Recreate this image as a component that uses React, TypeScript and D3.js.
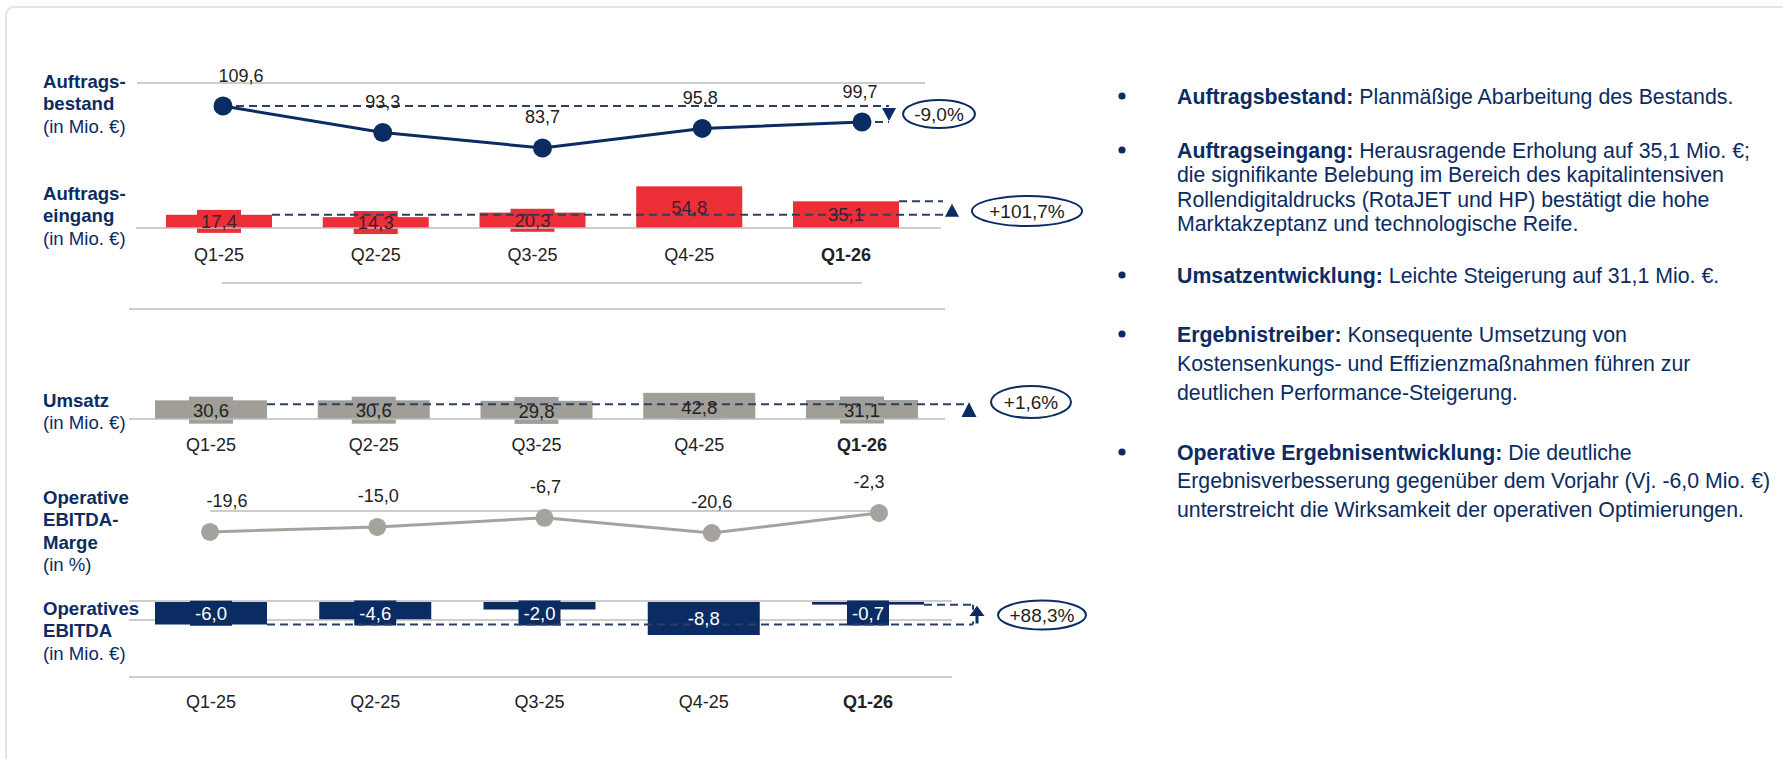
import React from 'react';
import * as d3 from 'd3';

const quarters = ['Q1-25', 'Q2-25', 'Q3-25', 'Q4-25', 'Q1-26'];
const auftragsbestand = [109.6, 93.3, 83.7, 95.8, 99.7];
const auftragseingang = [17.4, 14.3, 20.3, 54.8, 35.1];
const umsatz = [30.6, 30.6, 29.8, 42.8, 31.1];
const ebitdaMarge = [-19.6, -15.0, -6.7, -20.6, -2.3];
const ebitda = [-6.0, -4.6, -2.0, -8.8, -0.7];
const changeLabels = ['-9,0%', '+101,7%', '+1,6%', '+88,3%'];

const panelTitles = [
  { bold: ['Auftrags-', 'bestand'], unit: '(in Mio. €)' },
  { bold: ['Auftrags-', 'eingang'], unit: '(in Mio. €)' },
  { bold: ['Umsatz'], unit: '(in Mio. €)' },
  { bold: ['Operative', 'EBITDA-', 'Marge'], unit: '(in %)' },
  { bold: ['Operatives', 'EBITDA'], unit: '(in Mio. €)' },
];

const bullets = [
  { head: 'Auftragsbestand:', lines: [' Planmäßige Abarbeitung des Bestands.'] },
  {
    head: 'Auftragseingang:',
    lines: [
      ' Herausragende Erholung auf 35,1 Mio. €;',
      'die signifikante Belebung im Bereich des kapitalintensiven',
      'Rollendigitaldrucks (RotaJET und HP) bestätigt die hohe',
      'Marktakzeptanz und technologische Reife.',
    ],
  },
  { head: 'Umsatzentwicklung:', lines: [' Leichte Steigerung auf 31,1 Mio. €.'] },
  {
    head: 'Ergebnistreiber:',
    lines: [
      ' Konsequente Umsetzung von',
      'Kostensenkungs- und Effizienzmaßnahmen führen zur',
      'deutlichen Performance-Steigerung.',
    ],
  },
  {
    head: 'Operative Ergebnisentwicklung:',
    lines: [
      ' Die deutliche',
      'Ergebnisverbesserung gegenüber dem Vorjahr (Vj. -6,0 Mio. €)',
      'unterstreicht die Wirksamkeit der operativen Optimierungen.',
    ],
  },
];

const NAVY = '#0b2c62';
const DASH = '#2c3f69';
const RED = '#ec2f36';
const GREY_BAR = '#a19e98';
const GREY_LINE = '#a6a39e';
const AXIS = '#bdbdbd';
const FONT = "'Liberation Sans', Arial, sans-serif";

const fmt = (v: number) => v.toFixed(1).replace('.', ',');

function Ellipse({ cx, cy, rx, ry, text }: any) {
  return (
    <g>
      <ellipse cx={cx} cy={cy} rx={rx} ry={ry} fill="#fff" stroke={NAVY} strokeWidth={2} />
      <text x={cx} y={cy} dy="0.36em" textAnchor="middle" fontSize={19} fill="#222">{text}</text>
    </g>
  );
}

function Tri({ x, y1, y2, w = 7 }: any) {
  // triangle with base at y1, tip at y2
  return <path d={`M${x - w},${y1}L${x + w},${y1}L${x},${y2}Z`} fill={NAVY} />;
}

export default function App() {
  // Panel 1: Auftragsbestand (line)
  const x1 = d3.scalePoint<string>().domain(quarters).range([223, 862]);
  const y1 = d3.scaleLinear().domain([80, 110]).range([154, 105.4]);
  const line1 = d3.line<number>().x((_, i) => x1(quarters[i])!).y((d) => y1(d));

  // Panel 2: Auftragseingang (bars)
  const x2 = d3.scalePoint<string>().domain(quarters).range([219, 846]);
  const y2 = d3.scaleLinear().domain([0, 60]).range([228, 182.4]);
  const bw2 = 106;

  // Panel 3: Umsatz (bars)
  const x3 = d3.scalePoint<string>().domain(quarters).range([211, 862]);
  const y3 = d3.scaleLinear().domain([0, 50]).range([419, 388.5]);
  const bw3 = 112;

  // Panel 4: EBITDA-Marge (line)
  const x4 = d3.scalePoint<string>().domain(quarters).range([210, 879]);
  const y4 = d3.scaleLinear().domain([-20.6, -2.3]).range([533, 513]);
  const line4 = d3.line<number>().x((_, i) => x4(quarters[i])!).y((d) => y4(d));

  // Panel 5: EBITDA (bars)
  const x5 = d3.scalePoint<string>().domain(quarters).range([211, 868]);
  const y5 = d3.scaleLinear().domain([0, -10]).range([602, 639.5]);
  const bw5 = 112;

  const titleY = [81, 193, 400, 497, 608];
  const lineH = 22.5;
  const nudge1 = [18, 0, 0, -2, -2];
  const nudge4 = [17, 1, 1, 0, -10];

  const bulletTop = [96, 150, 275, 334, 452];
  const bulletGap = [24.5, 24.5, 24.5, 29, 28.5];

  const catLabels = (xs: any, y: number) =>
    quarters.map((q, i) => (
      <text key={q} x={xs(q)} y={y} dy="0.36em" textAnchor="middle" fontSize={18}
        fontWeight={i === quarters.length - 1 ? 'bold' : 'normal'} fill="#222">{q}</text>
    ));

  const last = quarters.length - 1;

  return (
    <svg width={1783} height={759} style={{ position: 'absolute', left: 0, top: 0, fontFamily: FONT }}>
      <rect x={0} y={0} width={1783} height={759} fill="#fff" />
      <rect x={6} y={7} width={1820} height={820} rx={8} fill="#fff" stroke="#e4e4e4" strokeWidth={2} />

      {/* panel titles */}
      {panelTitles.map((t, k) => (
        <text key={k} x={43} fontSize={18.6} fill={NAVY}>
          {t.bold.map((b, j) => (
            <tspan key={j} x={43} y={titleY[k] + j * lineH} dy="0.36em" fontWeight="bold">{b}</tspan>
          ))}
          <tspan x={43} y={titleY[k] + t.bold.length * lineH} dy="0.36em">{t.unit}</tspan>
        </text>
      ))}

      {/* ---------- Panel 1 ---------- */}
      <line x1={137} x2={925} y1={83} y2={83} stroke={AXIS} strokeWidth={1.5} />
      <line x1={x1(quarters[0])} x2={889} y1={y1(auftragsbestand[0])} y2={y1(auftragsbestand[0])}
        stroke={DASH} strokeWidth={2} strokeDasharray="8 5" />
      <line x1={x1(quarters[last])} x2={889} y1={y1(auftragsbestand[last])} y2={y1(auftragsbestand[last])}
        stroke={DASH} strokeWidth={2} strokeDasharray="8 5" />
      <Tri x={889} y1={y1(auftragsbestand[0]) + 2} y2={y1(auftragsbestand[last]) - 1} />
      <path d={line1(auftragsbestand)!} fill="none" stroke={NAVY} strokeWidth={3} />
      {auftragsbestand.map((v, i) => (
        <g key={i}>
          <circle cx={x1(quarters[i])} cy={y1(v)} r={9.5} fill={NAVY} />
          <text x={x1(quarters[i])! + nudge1[i]} y={y1(v) - 31} dy="0.36em" textAnchor="middle" fontSize={18} fill="#222">{fmt(v)}</text>
        </g>
      ))}
      <Ellipse cx={939} cy={114} rx={36} ry={14} text={changeLabels[0]} />

      {/* ---------- Panel 2 ---------- */}
      {auftragseingang.map((v, i) => {
        const cx = x2(quarters[i])!;
        const cy = (y2(v) + y2(0)) / 2;
        return (
          <g key={i}>
            <rect x={cx - bw2 / 2} y={y2(v)} width={bw2} height={y2(0) - y2(v)} fill={RED} />
            <rect x={cx - 22} y={cy - 11.5} width={44} height={23} fill={RED} />
          </g>
        );
      })}
      <line x1={136} x2={941} y1={228} y2={228} stroke={AXIS} strokeWidth={1.5} />
      <line x1={x2(quarters[0])! + bw2 / 2} x2={943} y1={y2(auftragseingang[0])} y2={y2(auftragseingang[0])}
        stroke={DASH} strokeWidth={2} strokeDasharray="8 5" />
      <line x1={x2(quarters[last])! + bw2 / 2} x2={943} y1={y2(auftragseingang[last])} y2={y2(auftragseingang[last])}
        stroke={DASH} strokeWidth={2} strokeDasharray="8 5" />
      <Tri x={952} y1={y2(auftragseingang[0]) + 2} y2={y2(auftragseingang[0]) - 11} />
      {auftragseingang.map((v, i) => (
        <text key={i} x={x2(quarters[i])} y={(y2(v) + y2(0)) / 2} dy="0.36em" textAnchor="middle" fontSize={18.5} fill="#3a2232">{fmt(v)}</text>
      ))}
      <Ellipse cx={1027} cy={211} rx={55} ry={15} text={changeLabels[1]} />
      {catLabels(x2, 255)}

      <line x1={222} x2={862} y1={283} y2={283} stroke={AXIS} strokeWidth={1.5} />
      <line x1={129} x2={945} y1={309} y2={309} stroke={AXIS} strokeWidth={1.5} />

      {/* ---------- Panel 3 ---------- */}
      {umsatz.map((v, i) => {
        const cx = x3(quarters[i])!;
        const cy = (y3(v) + y3(0)) / 2;
        return (
          <g key={i}>
            <rect x={cx - bw3 / 2} y={y3(v)} width={bw3} height={y3(0) - y3(v)} fill={GREY_BAR} />
            <rect x={cx - 22} y={cy - 13} width={44} height={27} fill={GREY_BAR} />
          </g>
        );
      })}
      <line x1={129} x2={945} y1={419} y2={419} stroke={AXIS} strokeWidth={1.5} />
      <line x1={x3(quarters[0])! + bw3 / 2} x2={970} y1={y3(umsatz[0]) + 4} y2={y3(umsatz[0]) + 4}
        stroke={DASH} strokeWidth={2} strokeDasharray="8 5" />
      <Tri x={969} y1={y3(0) - 2} y2={y3(umsatz[0]) + 2} w={7.5} />
      {umsatz.map((v, i) => (
        <text key={i} x={x3(quarters[i])} y={(y3(v) + y3(0)) / 2 + 1} dy="0.36em" textAnchor="middle" fontSize={18.5} fill="#222">{fmt(v)}</text>
      ))}
      <Ellipse cx={1031} cy={402} rx={40} ry={16} text={changeLabels[2]} />
      {catLabels(x3, 445)}

      {/* ---------- Panel 4 ---------- */}
      <line x1={210} x2={886} y1={511} y2={511} stroke={AXIS} strokeWidth={1.5} />
      <path d={line4(ebitdaMarge)!} fill="none" stroke={GREY_LINE} strokeWidth={3} />
      {ebitdaMarge.map((v, i) => (
        <g key={i}>
          <circle cx={x4(quarters[i])} cy={y4(v)} r={9} fill={GREY_LINE} />
          <text x={x4(quarters[i])! + nudge4[i]} y={y4(v) - 31} dy="0.36em" textAnchor="middle" fontSize={18} fill="#222">{fmt(v)}</text>
        </g>
      ))}

      {/* ---------- Panel 5 ---------- */}
      <line x1={129} x2={952} y1={601} y2={601} stroke={AXIS} strokeWidth={1.5} />
      <line x1={129} x2={952} y1={620} y2={620} stroke={AXIS} strokeWidth={1.5} />
      {ebitda.map((v, i) => {
        const cx = x5(quarters[i])!;
        const cy = Math.max((y5(v) + y5(0)) / 2, y5(0) + 11);
        return (
          <g key={i}>
            <rect x={cx - bw5 / 2} y={y5(0)} width={bw5} height={y5(v) - y5(0)} fill={NAVY} />
            <rect x={cx - 21} y={cy - 12.5} width={42} height={25} fill={NAVY} />
          </g>
        );
      })}
      <line x1={x5(quarters[0])! + bw5 / 2} x2={973} y1={y5(ebitda[0])} y2={y5(ebitda[0])}
        stroke={DASH} strokeWidth={2} strokeDasharray="8 5" />
      <line x1={x5(quarters[last])! + bw5 / 2} x2={973} y1={y5(ebitda[last])} y2={y5(ebitda[last])}
        stroke={DASH} strokeWidth={2} strokeDasharray="8 5" />
      <line x1={973} x2={973} y1={y5(ebitda[last])} y2={y5(ebitda[last]) + 5} stroke={DASH} strokeWidth={2} />
      <line x1={973} x2={973} y1={y5(ebitda[0]) - 3} y2={y5(ebitda[0])} stroke={DASH} strokeWidth={2} />
      <line x1={977} x2={977} y1={614} y2={y5(ebitda[0]) - 1} stroke={NAVY} strokeWidth={3} />
      <Tri x={977} y1={616} y2={y5(ebitda[last]) + 1} w={7.5} />
      {ebitda.map((v, i) => (
        <text key={i} x={x5(quarters[i])} y={Math.max((y5(v) + y5(0)) / 2, y5(0) + 11)} dy="0.36em"
          textAnchor="middle" fontSize={18.5} fill="#fff">{fmt(v)}</text>
      ))}
      <Ellipse cx={1042} cy={615} rx={44} ry={14.5} text={changeLabels[3]} />
      <line x1={129} x2={952} y1={677} y2={677} stroke={AXIS} strokeWidth={1.5} />
      {catLabels(x5, 702)}

      {/* ---------- Bullets ---------- */}
      {bullets.map((b, k) => (
        <g key={k}>
          <circle cx={1122} cy={bulletTop[k]} r={3.6} fill={NAVY} />
          <text fontSize={21.3} fill={NAVY}>
            <tspan x={1177} y={bulletTop[k]} dy="0.36em" fontWeight="bold">{b.head}</tspan>
            <tspan>{b.lines[0]}</tspan>
            {b.lines.slice(1).map((l, j) => (
              <tspan key={j} x={1177} y={bulletTop[k] + (j + 1) * bulletGap[k]} dy="0.36em">{l}</tspan>
            ))}
          </text>
        </g>
      ))}
    </svg>
  );
}
